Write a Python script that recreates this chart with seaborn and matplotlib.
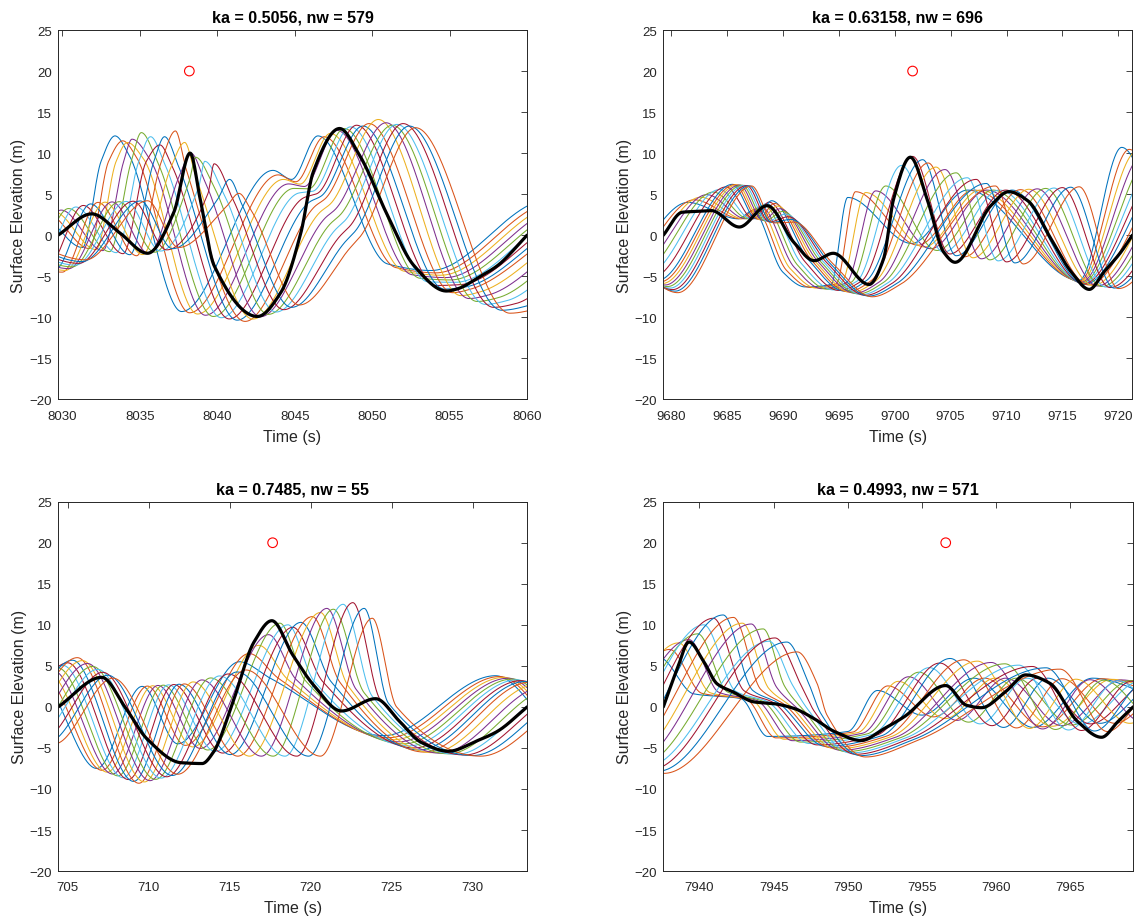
import numpy as np
import pandas as pd
import matplotlib
matplotlib.use("Agg")
import matplotlib.pyplot as plt
import seaborn as sns

# ---------------------------------------------------------------------------
# Chart values
# ---------------------------------------------------------------------------
GAUGE_COLORS = ["#0072BD", "#D95319", "#EDB120", "#7E2F8E",
                "#77AC30", "#4DBEEE", "#A2142F"]
N_GAUGES = 16

TITLES = ["ka = 0.5056, nw = 579", "ka = 0.63158, nw = 696",
          "ka = 0.7485, nw = 55", "ka = 0.4993, nw = 571"]
X_LIMITS = [(8029.72, 8060.0), (9679.31, 9721.25),
            (704.42, 733.36), (7937.57, 7969.23)]
X_TICKS = [[8030, 8035, 8040, 8045, 8050, 8055, 8060],
           [9680, 9685, 9690, 9695, 9700, 9705, 9710, 9715, 9720],
           [705, 710, 715, 720, 725, 730],
           [7940, 7945, 7950, 7955, 7960, 7965]]
Y_TICKS = [-20, -15, -10, -5, 0, 5, 10, 15, 20, 25]
CREST_MARK_T = [8038.2, 9701.6, 717.65, 7956.6]
CREST_MARK_ETA = [20, 20, 20, 20]

# Thick black record of each event (time, elevation)
TL_BLACK_T = [8029.72, 8031.9, 8033.7, 8035.5, 8037.2, 8038.25, 8038.9, 8039.8,
              8042.6, 8044.1, 8045.4, 8046.2, 8047.9, 8049.2, 8051.0, 8052.7,
              8054.8, 8055.4, 8057.0, 8058.1, 8060.0]
TL_BLACK_ETA = [0.0, 2.6, 0.3, -2.2, 2.8, 10.0, 4.4, -3.7, -9.9, -7.0, 0.3, 7.7,
                13.0, 9.7, 2.4, -3.7, -6.8, -6.6, -5.0, -3.7, 0.0]

TR_BLACK_T = [9679.31, 9681.0, 9682.2, 9683.6, 9686.1, 9688.6, 9691.0, 9692.8,
              9694.5, 9697.7, 9699.0, 9699.9, 9701.4, 9702.9, 9704.4, 9705.4,
              9708.6, 9710.2, 9711.9, 9714.0, 9715.8, 9717.4, 9718.7, 9720.2,
              9721.25]
TR_BLACK_ETA = [0.0, 2.8, 2.9, 3.0, 1.0, 3.6, -0.9, -3.1, -2.2, -6.0, -2.9, 4.4,
                9.5, 4.4, -2.1, -3.3, 3.6, 5.3, 4.2, -0.5, -4.5, -6.6, -4.5,
                -2.1, 0.0]

BL_BLACK_T = [704.42, 707.1, 708.6, 709.9, 712.0, 713.3, 714.0, 715.2, 716.5,
              717.6, 718.9, 720.2, 721.9, 724.0, 725.5, 726.8, 728.5, 730.3,
              731.5, 733.36]
BL_BLACK_ETA = [0.0, 3.6, -0.2, -3.9, -6.8, -6.9, -5.5, 0.6, 7.9, 10.5, 6.3,
                2.6, -0.5, 1.0, -1.8, -4.3, -5.4, -4.1, -3.0, 0.0]

BR_BLACK_T = [7937.57, 7938.5, 7939.3, 7940.3, 7941.2, 7942.3, 7943.7, 7945.0,
              7946.4, 7947.7, 7949.1, 7950.9, 7952.4, 7953.8, 7956.6, 7958.0,
              7959.0, 7960.6, 7962.0, 7963.6, 7965.5, 7967.1, 7968.2, 7969.23]
BR_BLACK_ETA = [0.0, 4.6, 7.9, 5.5, 2.8, 1.8, 0.6, 0.4, -0.2, -1.4, -3.0, -4.1,
                -2.7, -1.2, 2.6, 0.2, -0.1, 1.8, 3.9, 2.9, -1.8, -3.7, -1.8, 0.0]

# Gauge records: wave features (troughs, crests, shoulders) of the first,
# a middle and the last gauge; the other gauges sit between them.
TL_MID_GAUGE = 8
TL_FIRST_T = [8023.0, 8026.0, 8028.5, 8031.3, 8032.5, 8033.4, 8034.3, 8037.7,
              8043.6, 8044.8, 8046.5, 8051.0, 8053.8, 8060.4, 8064.0]
TL_FIRST_ETA = [0.0, -2.5, 2.5, -1.5, 9.0, 12.1, 9.8, -9.3, 7.9, 6.8, 12.1,
                -3.5, -4.3, 3.9, 6.0]
TL_MID_T = [8025.0, 8030.0, 8032.3, 8034.8, 8036.4, 8037.2, 8038.0, 8041.8,
            8046.3, 8047.0, 8050.1, 8055.2, 8056.3, 8062.5, 8066.0]
TL_MID_ETA = [0.0, -4.5, 4.0, -2.5, 9.0, 12.7, 8.0, -10.5, 3.5, 4.5, 13.8,
              -7.0, -6.6, 1.0, 4.0]
TL_LAST_T = [8027.0, 8031.5, 8035.5, 8037.5, 8040.6, 8041.4, 8042.2, 8045.3,
             8048.6, 8049.3, 8052.8, 8058.9, 8060.5, 8064.0, 8068.0]
TL_LAST_ETA = [0.0, -3.0, 4.2, -1.5, 3.5, 5.0, 3.0, -8.5, -1.5, 0.0, 13.1,
               -9.5, -9.0, -3.0, 2.0]
# Crest of every gauge, read one by one (feature 5 and feature 10)
TL_CREST1_T = [8033.4, 8033.9, 8034.2, 8034.5, 8035.1, 8035.7, 8036.3, 8036.6,
               8037.3, 8037.9, 8038.3, 8038.6, 8039.2, 8039.8, 8040.8, 8041.4]
TL_CREST1_ETA = [12.1, 11.5, 11.3, 11.7, 12.5, 12.0, 11.0, 12.0, 12.7, 11.3,
                 10.0, 9.5, 9.0, 8.7, 6.8, 5.1]
TL_CREST2_T = [8046.5, 8046.9, 8047.3, 8047.7, 8048.2, 8048.6, 8049.0, 8049.4,
               8049.8, 8050.4, 8050.9, 8051.3, 8051.6, 8052.0, 8052.4, 8052.8]
TL_CREST2_ETA = [12.1, 12.0, 12.4, 12.8, 13.0, 13.2, 13.4, 13.3, 13.6, 14.1,
                 13.7, 13.4, 13.5, 13.6, 13.3, 13.1]

TR_MID_GAUGE = 7
TR_FIRST_T = [9670.0, 9675.5, 9681.5, 9686.0, 9687.3, 9690.0, 9692.0, 9694.3,
              9696.5, 9701.5, 9706.5, 9716.5, 9720.3, 9724.0]
TR_FIRST_ETA = [0.0, -3.0, 4.0, 2.0, 3.0, -4.5, -6.3, -6.0, 5.0, -1.0, 5.5,
                -5.5, 10.7, 0.0]
TR_MID_T = [9673.0, 9678.8, 9685.5, 9687.6, 9689.0, 9692.3, 9695.5, 9697.5,
            9701.8, 9705.5, 9710.5, 9717.0, 9725.0, 9729.0]
TR_MID_ETA = [0.0, -5.5, 6.2, 2.0, 4.2, -3.0, -6.8, -5.5, 9.5, -2.5, 5.5,
              -6.0, 9.0, 0.0]
TR_LAST_T = [9675.0, 9680.6, 9687.2, 9689.2, 9691.0, 9694.5, 9698.0, 9700.5,
             9708.5, 9711.5, 9716.5, 9720.0, 9728.0, 9732.0]
TR_LAST_ETA = [0.0, -7.0, 6.0, 1.5, 1.6, -3.5, -7.5, -6.0, 6.0, -3.5, 5.9,
               -6.5, 6.0, 0.0]
TR_CREST_T = [9695.8, 9696.5, 9697.4, 9698.3, 9699.2, 9700.6, 9701.6, 9702.5,
              9703.0, 9703.7, 9704.5, 9705.5, 9706.5, 9707.3, 9708.2, 9709.0]
TR_CREST_ETA = [4.6, 5.3, 5.2, 5.4, 6.0, 8.5, 9.6, 9.2, 8.8, 8.3, 8.0, 7.6,
                7.0, 6.8, 6.3, 6.0]

BL_MID_GAUGE = 8
BL_FIRST_T = [696.0, 699.5, 703.2, 706.8, 709.6, 711.8, 715.6, 717.5, 724.5,
              731.4, 735.0]
BL_FIRST_ETA = [0.0, -3.0, 3.5, -7.5, 2.5, -4.5, 6.5, 3.5, -3.5, 3.8, -3.0]
BL_MID_T = [698.0, 701.5, 705.6, 709.4, 712.2, 715.5, 720.1, 721.8, 727.0,
            733.5, 737.0]
BL_MID_ETA = [0.0, -3.0, 6.0, -9.3, 2.8, -6.0, 11.5, 3.0, -5.5, 3.0, -3.0]
BL_LAST_T = [700.0, 704.2, 707.8, 711.8, 716.0, 720.6, 723.8, 725.3, 730.5,
             737.0, 740.0]
BL_LAST_ETA = [0.0, -4.5, 3.5, -8.2, 4.5, -6.0, 10.8, 0.0, -6.0, 1.5, -3.0]
BL_CREST_T = [715.6, 716.2, 716.8, 717.4, 718.1, 718.6, 718.9, 719.4, 720.1,
              720.6, 721.0, 721.4, 722.0, 722.6, 723.3, 723.8]
BL_CREST_ETA = [5.5, 6.5, 7.5, 8.8, 10.2, 10.0, 9.7, 10.3, 11.0, 11.5, 12.0,
                11.9, 12.5, 12.7, 12.0, 10.8]

BR_MID_GAUGE = 7
BR_FIRST_T = [7926.0, 7931.5, 7937.3, 7939.6, 7942.8, 7944.6, 7950.0, 7952.0,
              7955.0, 7958.5, 7962.5, 7966.5, 7972.0]
BR_FIRST_ETA = [0.0, -5.0, 6.0, 1.6, 1.0, -3.6, -3.0, 2.0, -1.0, 3.5, -2.5,
                3.5, 0.0]
BR_MID_T = [7929.0, 7934.5, 7941.6, 7943.6, 7945.3, 7948.5, 7952.3, 7956.9,
            7960.5, 7963.5, 7967.0, 7971.0, 7975.0]
BR_MID_ETA = [0.0, -6.0, 11.2, 2.0, 0.5, -4.8, -3.5, 5.9, -2.5, 3.5, -2.0,
              3.0, 0.0]
BR_LAST_T = [7932.0, 7937.6, 7946.6, 7947.9, 7948.6, 7951.2, 7954.8, 7964.3,
             7967.5, 7971.0, 7975.0, 7978.0, 7982.0]
BR_LAST_ETA = [0.0, -8.1, 6.7, 3.0, -1.0, -6.1, -4.0, 4.6, -3.0, 3.0, -2.0,
               2.0, 0.0]
BR_CREST_T = [7937.3, 7938.0, 7938.6, 7939.3, 7939.9, 7940.3, 7940.95, 7941.6,
              7942.3, 7942.9, 7943.5, 7944.3, 7944.7, 7945.1, 7945.9, 7946.6]
BR_CREST_ETA = [6.0, 7.0, 7.8, 8.2, 8.9, 10.0, 10.8, 11.2, 10.9, 10.2, 10.1,
                9.5, 8.0, 8.4, 7.9, 6.7]

PANELS = [
    dict(black=(TL_BLACK_T, TL_BLACK_ETA), mid=TL_MID_GAUGE,
         first=(TL_FIRST_T, TL_FIRST_ETA), middle=(TL_MID_T, TL_MID_ETA),
         last=(TL_LAST_T, TL_LAST_ETA),
         crests=[(5, TL_CREST1_T, TL_CREST1_ETA),
                 (10, TL_CREST2_T, TL_CREST2_ETA)]),
    dict(black=(TR_BLACK_T, TR_BLACK_ETA), mid=TR_MID_GAUGE,
         first=(TR_FIRST_T, TR_FIRST_ETA), middle=(TR_MID_T, TR_MID_ETA),
         last=(TR_LAST_T, TR_LAST_ETA),
         crests=[(8, TR_CREST_T, TR_CREST_ETA)]),
    dict(black=(BL_BLACK_T, BL_BLACK_ETA), mid=BL_MID_GAUGE,
         first=(BL_FIRST_T, BL_FIRST_ETA), middle=(BL_MID_T, BL_MID_ETA),
         last=(BL_LAST_T, BL_LAST_ETA),
         crests=[(6, BL_CREST_T, BL_CREST_ETA)]),
    dict(black=(BR_BLACK_T, BR_BLACK_ETA), mid=BR_MID_GAUGE,
         first=(BR_FIRST_T, BR_FIRST_ETA), middle=(BR_MID_T, BR_MID_ETA),
         last=(BR_LAST_T, BR_LAST_ETA),
         crests=[(2, BR_CREST_T, BR_CREST_ETA)]),
]


# ---------------------------------------------------------------------------
# Helpers
# ---------------------------------------------------------------------------
def pchip(xk, yk, x):
    """Shape-preserving piecewise cubic through the given points."""
    xk = np.asarray(xk, float)
    yk = np.asarray(yk, float)
    h = np.diff(xk)
    d = np.diff(yk) / h
    m = np.zeros_like(yk)
    m[0], m[-1] = d[0], d[-1]
    for k in range(1, len(xk) - 1):
        if d[k - 1] * d[k] > 0:
            w1 = 2 * h[k] + h[k - 1]
            w2 = h[k] + 2 * h[k - 1]
            m[k] = (w1 + w2) / (w1 / d[k - 1] + w2 / d[k])
    i = np.clip(np.searchsorted(xk, x) - 1, 0, len(xk) - 2)
    s = (x - xk[i]) / h[i]
    h00 = 2 * s**3 - 3 * s**2 + 1
    h10 = s**3 - 2 * s**2 + s
    h01 = -2 * s**3 + 3 * s**2
    h11 = s**3 - s**2
    return (h00 * yk[i] + h10 * h[i] * m[i]
            + h01 * yk[i + 1] + h11 * h[i] * m[i + 1])


def gauge_features(first, middle, last, mid, k, n):
    first, middle, last = (np.asarray(a, float) for a in (first, middle, last))
    if k <= mid:
        w = k / mid
        return first * (1 - w) + middle * w
    w = (k - mid) / (n - 1 - mid)
    return middle * (1 - w) + last * w


# ---------------------------------------------------------------------------
# Style
# ---------------------------------------------------------------------------
sns.set_theme(style="white")
plt.rcParams["font.family"] = ["Liberation Sans", "DejaVu Sans"]
plt.rcParams["axes.edgecolor"] = "#262626"
plt.rcParams["axes.linewidth"] = 0.7
plt.rcParams["xtick.color"] = "#262626"
plt.rcParams["ytick.color"] = "#262626"

fig = plt.figure(figsize=(11.37, 9.2), dpi=100)
positions = [[0.0510, 0.5648, 0.4125, 0.4015],
             [0.5834, 0.5648, 0.4125, 0.4015],
             [0.0512, 0.0521, 0.4125, 0.4015],
             [0.5834, 0.0521, 0.4132, 0.4015]]

palette = {f"g{k:02d}": GAUGE_COLORS[k % len(GAUGE_COLORS)]
           for k in range(N_GAUGES)}
hue_order = list(palette.keys())

for p, panel in enumerate(PANELS):
    ax = fig.add_axes(positions[p])
    x0, x1 = X_LIMITS[p]
    tt = np.linspace(x0 - 0.3, x1 + 0.3, 1400)

    frames = []
    for k in range(N_GAUGES):
        kt = gauge_features(panel["first"][0], panel["middle"][0],
                            panel["last"][0], panel["mid"], k, N_GAUGES)
        ke = gauge_features(panel["first"][1], panel["middle"][1],
                            panel["last"][1], panel["mid"], k, N_GAUGES)
        for idx, ct, ce in panel["crests"]:
            kt[idx] = ct[k]
            ke[idx] = ce[k]
        frames.append(pd.DataFrame({"time": tt, "eta": pchip(kt, ke, tt),
                                    "gauge": f"g{k:02d}"}))
    gauges = pd.concat(frames, ignore_index=True)

    sns.lineplot(data=gauges, x="time", y="eta", hue="gauge",
                 hue_order=hue_order, palette=palette, estimator=None,
                 sort=False, legend=False, linewidth=0.75, ax=ax)

    bt, be = panel["black"]
    tb = np.linspace(bt[0], bt[-1], 1200)
    black = pd.DataFrame({"time": tb, "eta": pchip(bt, be, tb)})
    sns.lineplot(data=black, x="time", y="eta", color="black",
                 linewidth=2.3, estimator=None, sort=False, ax=ax)

    mark = pd.DataFrame({"time": [CREST_MARK_T[p]], "eta": [CREST_MARK_ETA[p]]})
    sns.scatterplot(data=mark, x="time", y="eta", marker="o", s=48, ax=ax)
    coll = ax.collections[-1]
    coll.set_facecolor("none")
    coll.set_edgecolor("#FF0000")
    coll.set_linewidth(0.8)

    ax.set_xlim(x0, x1)
    ax.set_ylim(-20, 25)
    ax.set_xticks(X_TICKS[p])
    ax.set_yticks(Y_TICKS)
    ax.tick_params(axis="both", which="both", direction="in", length=4,
                   width=0.6, top=True, right=True, labelsize=9.5,
                   labelcolor="#262626")
    ax.tick_params(axis="x", pad=7.5)
    ax.tick_params(axis="y", pad=4.5)
    for side in ("left", "right", "top", "bottom"):
        ax.spines[side].set_visible(True)
        ax.spines[side].set_color("#262626")
        ax.spines[side].set_linewidth(0.7)
    ax.set_xlabel("Time (s)", fontsize=11.5, color="#262626", labelpad=5)
    ax.set_ylabel("Surface Elevation (m)", fontsize=11.5, color="#262626",
                  labelpad=2)
    ax.set_title(TITLES[p], fontsize=11.5, fontweight="bold", color="black",
                 pad=6)
    ax.grid(False)

fig.savefig("out.png", dpi=100)
